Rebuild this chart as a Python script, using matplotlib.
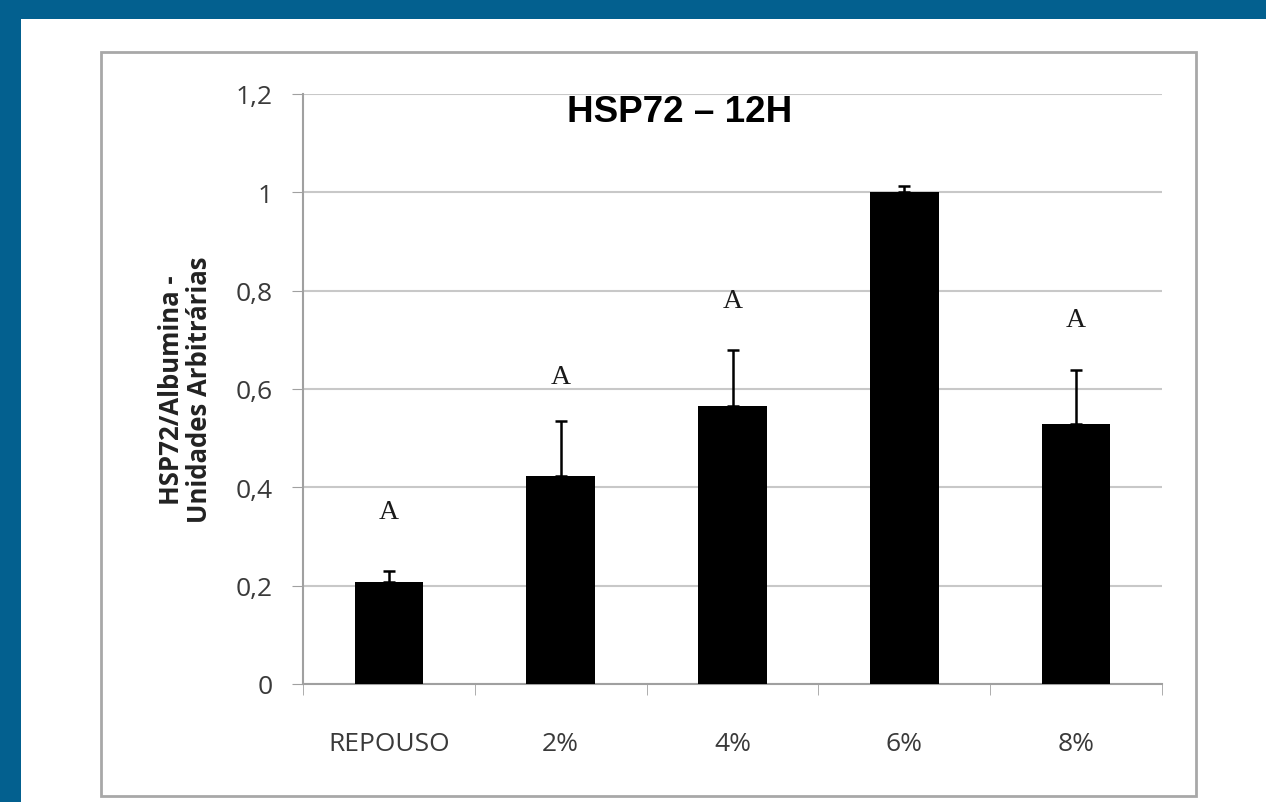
import matplotlib.pyplot as plt
from matplotlib.patches import Rectangle

categories = ['REPOUSO', '2%', '4%', '6%', '8%']
means = [0.207, 0.423, 0.565, 1.0, 0.529]
errs = [0.023, 0.112, 0.115, 0.013, 0.110]
letters = ['A', 'A', 'A', '', 'A']
letter_y = [0.35, 0.626, 0.78, None, 0.742]
yticks = [0, 0.2, 0.4, 0.6, 0.8, 1.0, 1.2]
ytick_labels = ['0', '0,2', '0,4', '0,6', '0,8', '1', '1,2']

blue = '#03608f'
fig = plt.figure(figsize=(12.66, 8.03), dpi=100)
fig.patch.set_facecolor(blue)

# white panel and the grey frame around the chart
fig.patches.append(Rectangle((21 / 1266, 0), 1, 1 - 20 / 803, transform=fig.transFigure,
                             facecolor='white', edgecolor='none', zorder=-10))
fig.patches.append(Rectangle((101 / 1266, 1 - 797 / 803), (1196 - 101) / 1266, (797 - 53) / 803,
                             transform=fig.transFigure, facecolor='none',
                             edgecolor='#a8a8a8', lw=2, zorder=-5))

ax = fig.add_axes([303 / 1266, 1 - 685 / 803, 859 / 1266, 590 / 803])
ax.set_facecolor('none')

x = range(len(categories))
ax.bar(x, means, width=0.4, color='black', zorder=3)
ax.errorbar(x, means, yerr=[[0] * len(errs), errs], fmt='none', ecolor='black',
            elinewidth=1.8, capsize=4, capthick=1.8, zorder=4)

for i, (lt, ly) in enumerate(zip(letters, letter_y)):
    if lt:
        ax.text(i, ly, lt, ha='center', va='center', fontsize=20,
                family='Liberation Serif', color='#1a1a1a')

ax.set_xlim(-0.5, 4.5)
ax.set_ylim(0, 1.2)
ax.set_yticks(yticks)
ax.set_yticklabels(ytick_labels)
ax.set_xticks(list(x))
ax.set_xticklabels(categories)
ax.set_xticks([i - 0.5 for i in range(6)], minor=True)
ax.tick_params(axis='x', which='major', length=0, pad=34, labelsize=19, labelcolor='#3a3a3a')
ax.tick_params(axis='x', which='minor', length=8, color='#a0a0a0', direction='out')
ax.tick_params(axis='y', length=8, color='#a0a0a0', pad=14, labelsize=19, labelcolor='#3a3a3a')
for lab in ax.get_xticklabels() + ax.get_yticklabels():
    lab.set_family('Open Sans')

ax.grid(axis='y', color='#c8c8c8', lw=1.5, zorder=0)
for s in ['top', 'right']:
    ax.spines[s].set_visible(False)
for s in ['left', 'bottom']:
    ax.spines[s].set_color('#a0a0a0')
    ax.spines[s].set_linewidth(1.5)

ax.set_ylabel('HSP72/Albumina -\nUnidades Arbitrárias', fontsize=18.5, fontweight='bold',
              family='Open Sans', color='#222222', labelpad=16, linespacing=1.05)
fig.text(680 / 1266, 1 - 112 / 803, 'HSP72 – 12H', ha='center', va='center',
         fontsize=26.5, fontweight='bold', family='Liberation Sans')

fig.savefig('out.png', dpi=100, facecolor=blue)
